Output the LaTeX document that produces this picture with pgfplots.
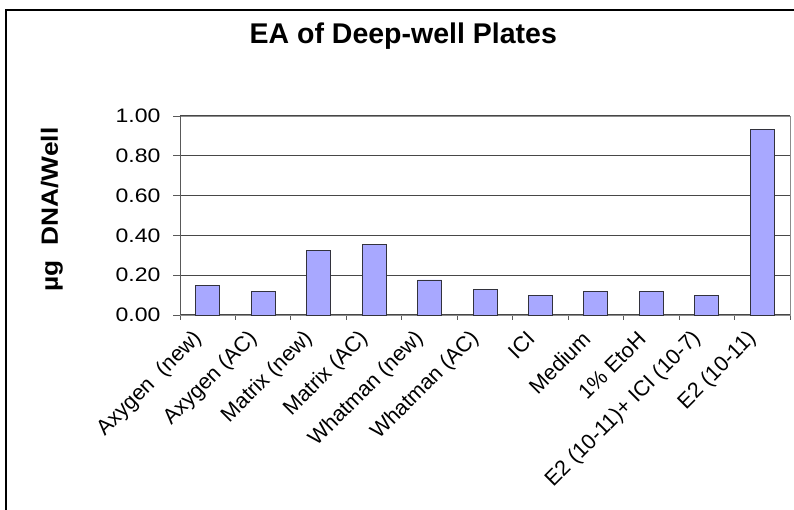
\documentclass[border=0pt]{standalone}
\usepackage{fontspec}
\setmainfont{Liberation Sans}
\newfontfamily\tickfont[FakeStretch=1.18]{Liberation Sans}
\newfontfamily\ylabfont[FakeStretch=1.12]{Liberation Sans}
\usepackage{pgfplots}
\pgfplotsset{compat=1.18}
\definecolor{barfill}{RGB}{168,168,255}
\definecolor{baredge}{RGB}{50,50,60}
\begin{document}
\begin{tikzpicture}[x=1pt,y=1pt]
\path[use as bounding box] (0,0) rectangle (794,510);
\draw[black, line width=1.8pt] (6,-5) -- (6,500) -- (800,500);
\begin{axis}[
  at={(180pt,195pt)}, anchor=south west,
  scale only axis, width=610pt, height=199pt,
  xmin=-0.5, xmax=10.5, ymin=0, ymax=1,
  ybar, bar width=24pt,
  axis line style={draw=black!45, line width=0.9pt},
  ytick={0,0.2,...,1.0},
  tick pos=left,
  yticklabel style={/pgf/number format/.cd, fixed, fixed zerofill, precision=2, /tikz/.cd, font=\tickfont\fontsize{19.5}{21}\selectfont, xshift=-9pt},
  /pgf/number format/assume math mode=true,
  ymajorgrids, grid style={draw=black!72, line width=1pt},
  tick align=outside, major tick length=7pt,
  tick style={draw=black!65, line width=0.9pt},
  xtick={0,...,10},
  major x tick style={draw=none},
  minor xtick={-0.5,0.5,...,10.5},
  minor tick length=5pt,
  minor x tick style={draw=black!65, line width=0.9pt},
  xticklabels={{Axygen\ \ (new)},{Axygen (AC)},{Matrix (new)},{Matrix (AC)},{Whatman (new)},{Whatman (AC)},{ICI},{Medium},{1\% EtoH},{E2 (10-11)+ ICI (10-7)},{E2 (10-11)}},
  xticklabel style={font=\fontsize{21.5}{23}\selectfont, xshift=-7pt, yshift=-11pt, rotate=45, anchor=east},
  ylabel={µg\ \ DNA/Well},
  ylabel style={font=\ylabfont\fontsize{23.5}{25}\selectfont\bfseries, at={(axis description cs:-0.21,0.53)}, anchor=center, rotate=0},
  title={EA of Deep-well Plates},
  title style={font=\fontsize{28.5}{30}\selectfont\bfseries, at={(axis description cs:0.366,1.372)}, anchor=center},
  clip=false,
]
\addplot[fill=barfill, draw=baredge, line width=0.9pt] coordinates {
 (0,0.147) (1,0.117) (2,0.323) (3,0.353) (4,0.176) (5,0.127)
 (6,0.097) (7,0.117) (8,0.117) (9,0.097) (10,0.931)
};
\draw[black!65, line width=0.9pt] (rel axis cs:0,0) -- (rel axis cs:0,1);
\end{axis}
\end{tikzpicture}
\end{document}
